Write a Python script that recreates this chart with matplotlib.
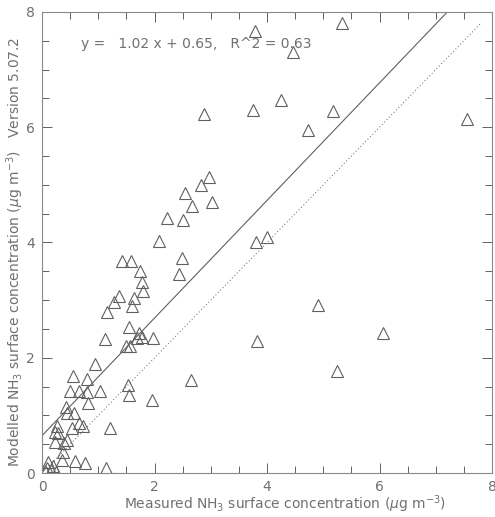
import numpy as np
import matplotlib.pyplot as plt
from matplotlib.ticker import MultipleLocator

# measured vs modelled NH3 surface concentration (ug m-3)
measured = [
    3.79, 5.33, 4.46, 2.88, 3.75, 4.25, 5.17, 7.55, 4.73,
    3.80, 4.00, 4.91, 3.82, 6.06, 5.24,
    2.97, 2.83, 2.55, 2.67, 3.03, 2.23, 2.51, 2.07,
    1.42, 1.58, 2.48, 1.74, 2.44, 1.77, 1.80, 1.36, 1.64, 1.28, 1.59, 1.16,
    1.55, 1.73, 1.77, 1.97, 1.50, 1.57, 1.68, 1.12, 0.94,
    0.55, 0.79, 0.49, 0.66, 1.03, 0.79, 0.82, 1.53, 1.55, 1.95, 2.64,
    0.43, 0.44, 0.56, 0.26, 0.54, 0.66, 0.72, 0.28, 0.23, 1.21,
    0.23, 0.44, 0.39, 0.38, 0.35, 0.59, 0.76, 0.11, 0.09, 0.20, 1.14,
    0.05, 0.15, 0.25,
]
modelled = [
    7.67, 7.81, 7.31, 6.23, 6.30, 6.48, 6.28, 6.14, 5.95,
    4.01, 4.10, 2.92, 2.29, 2.43, 1.77,
    5.14, 5.00, 4.86, 4.64, 4.70, 4.42, 4.39, 4.02,
    3.67, 3.68, 3.73, 3.50, 3.45, 3.32, 3.15, 3.07, 3.03, 2.96, 2.90, 2.79,
    2.53, 2.43, 2.36, 2.35, 2.20, 2.21, 2.34, 2.32, 1.90,
    1.68, 1.63, 1.42, 1.43, 1.42, 1.41, 1.21, 1.53, 1.35, 1.26, 1.61,
    1.15, 1.04, 1.05, 0.82, 0.79, 0.86, 0.82, 0.69, 0.72, 0.78,
    0.54, 0.57, 0.52, 0.37, 0.23, 0.21, 0.18, 0.20, 0.08, 0.12, 0.08,
    0.03, 0.05, 0.02,
]

# regression fit shown on the plot
slope = 1.02
intercept = 0.65
r2 = 0.63

grey = '#606060'
txt_grey = '#707070'
plt.rcParams['font.family'] = ['DejaVu Sans']
plt.rcParams['mathtext.fontset'] = 'dejavusans'

fig = plt.figure(figsize=(4.95, 5.17), dpi=100)
ax = fig.add_axes([0.085, 0.085, 0.909, 0.892])

ax.plot(measured, modelled, linestyle='none', marker='^', markersize=9,
        markerfacecolor='none', markeredgecolor=grey, markeredgewidth=0.8)

xfit = np.array([0, (8 - intercept) / slope])
ax.plot(xfit, slope * xfit + intercept, color=grey, lw=0.8)
x11 = np.array([0, 7.8])
ax.plot(x11, x11, color=grey, lw=0.7, linestyle=(0, (1, 2.5)))

ax.text(0.087, 0.93, 'y =   %.2f x + %.2f,   R^2 = %.2f' % (slope, intercept, r2),
        transform=ax.transAxes, fontsize=10, color=txt_grey, va='center')

ax.set_xlim(0, 8)
ax.set_ylim(0, 8)
ax.xaxis.set_major_locator(MultipleLocator(2))
ax.yaxis.set_major_locator(MultipleLocator(2))
ax.xaxis.set_minor_locator(MultipleLocator(0.5))
ax.yaxis.set_minor_locator(MultipleLocator(0.5))
ax.tick_params(which='both', direction='in', top=True, right=True,
               colors=grey, labelcolor=txt_grey, labelsize=10, width=0.7)
ax.tick_params(which='major', length=7, pad=5)
ax.tick_params(which='minor', length=5)
for s in ax.spines.values():
    s.set_color('#888888')
    s.set_linewidth(0.8)

ax.set_xlabel(r'Measured NH$_3$ surface concentration ($\mu$g m$^{-3}$)',
              fontsize=10, color=txt_grey)
ax.xaxis.set_label_coords(0.54, -0.045)
ax.set_ylabel(r'Modelled NH$_3$ surface concentration ($\mu$g m$^{-3}$)   Version 5.07.2',
              fontsize=10, color=txt_grey)
ax.yaxis.set_label_coords(-0.036, 0.48)

fig.savefig('out.png', dpi=100)
